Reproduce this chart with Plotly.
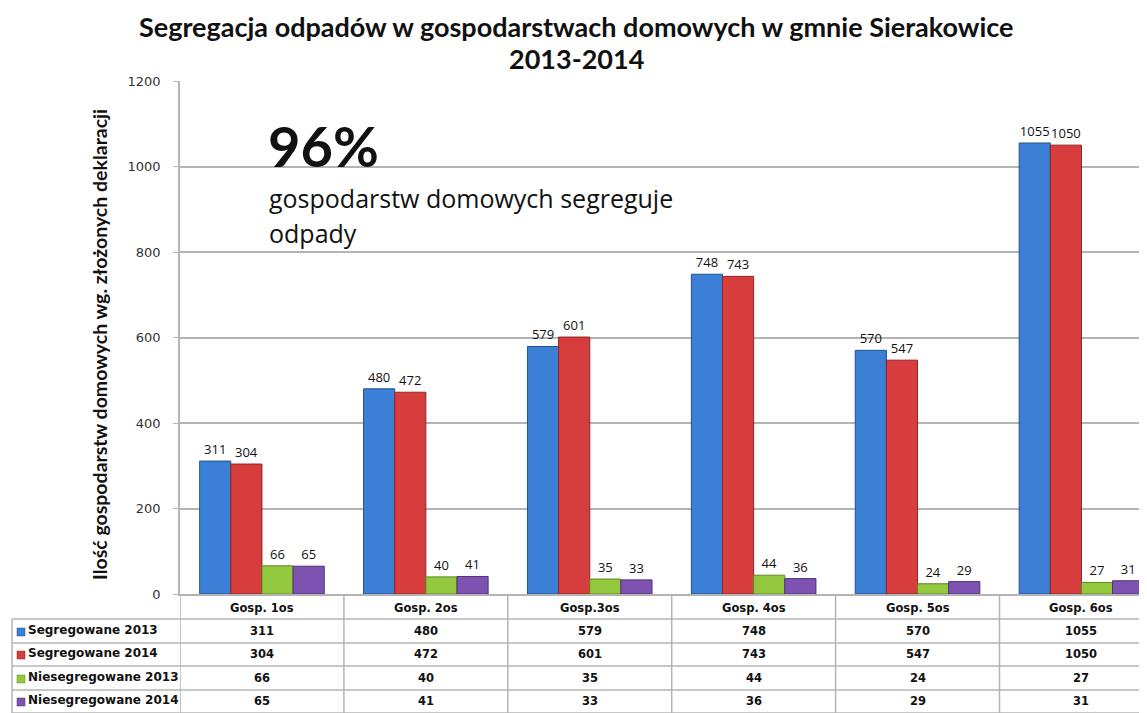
import plotly.graph_objects as go

categories = ["Gosp. 1os", "Gosp. 2os", "Gosp.3os", "Gosp. 4os", "Gosp. 5os", "Gosp. 6os"]
seg2013 = [311, 480, 579, 748, 570, 1055]
seg2014 = [304, 472, 601, 743, 547, 1050]
nieseg2013 = [66, 40, 35, 44, 24, 27]
nieseg2014 = [65, 41, 33, 36, 29, 31]
series_names = ["Segregowane 2013", "Segregowane 2014", "Niesegregowane 2013", "Niesegregowane 2014"]
series_values = [seg2013, seg2014, nieseg2013, nieseg2014]
colors = ["#3c7fd6", "#d73d3d", "#93c83f", "#7e52b0"]
outlines = ["#24528f", "#8e2424", "#5f8a22", "#4f3078"]
y_ticks = [0, 200, 400, 600, 800, 1000, 1200]

# the page body adds an 8px offset; layout is in target-picture pixels minus 8
OFF = 8
W, H = 1147 - OFF, 713 - OFF
L, R, T, B = 180 - OFF, 0, 81 - OFF, 713 - 594
pw, ph = W - L - R, H - T - B


def px(x):
    return (x - OFF - L) / pw


def py(y):
    return (H - B - (y - OFF)) / ph


fig = go.Figure()
for name, vals, c, oc in zip(series_names, series_values, colors, outlines):
    fig.add_trace(go.Bar(
        x=categories, y=vals, name=name,
        marker=dict(color=c, line=dict(color=oc, width=1)),
        text=[str(v) for v in vals], textposition="outside",
        textfont=dict(family="Open Sans", size=13, color="#111"),
        constraintext="none", cliponaxis=False,
    ))

shapes = []
annotations = []
grid = "#b4b4b4"
row_lines = [619, 643, 666, 690, 713]
for yl in row_lines:
    shapes.append(dict(type="line", xref="paper", yref="paper",
                       x0=px(12), x1=1.0, y0=py(yl), y1=py(yl),
                       line=dict(color=grid, width=1.5)))
shapes.append(dict(type="line", xref="paper", yref="paper",
                   x0=px(12), x1=px(12), y0=py(619), y1=py(713),
                   line=dict(color=grid, width=1.5)))
for i in range(len(categories)):
    shapes.append(dict(type="line", xref="x", yref="paper",
                       x0=i - 0.5, x1=i - 0.5, y0=py(594), y1=py(713),
                       line=dict(color=grid, width=1.5)))

row_centers = [631, 654, 678, 701]
tfont = dict(family="DejaVu Sans", size=11.5, color="#111", weight="bold")
for name, vals, c, oc, yc in zip(series_names, series_values, colors, outlines, row_centers):
    shapes.append(dict(type="rect", xref="paper", yref="paper",
                       x0=px(17), x1=px(25), y0=py(yc + 5), y1=py(yc - 3),
                       fillcolor=c, line=dict(color=oc, width=0.5)))
    annotations.append(dict(xref="paper", yref="paper", x=px(26), y=py(yc - 1),
                            text=name, showarrow=False, xanchor="left", yanchor="middle",
                            font=dict(family="DejaVu Sans", size=12, color="#111", weight="bold")))
    for cat, v in zip(categories, vals):
        annotations.append(dict(xref="x", yref="paper", x=cat, y=py(yc),
                                text=str(v), showarrow=False, xanchor="center", yanchor="middle",
                                font=tfont))

for cat in categories:
    annotations.append(dict(xref="x", yref="paper", x=cat, y=py(608),
                            text=cat, showarrow=False, xanchor="center", yanchor="middle",
                            font=tfont))

# title
tt = dict(family="Lato", size=27, color="#111", weight="bold")
annotations.append(dict(xref="paper", yref="paper", x=px(576), y=py(26),
                        text="Segregacja odpadów w gospodarstwach domowych w gmnie Sierakowice",
                        showarrow=False, xanchor="center", yanchor="middle", font=tt))
annotations.append(dict(xref="paper", yref="paper", x=px(576), y=py(59),
                        text="2013-2014",
                        showarrow=False, xanchor="center", yanchor="middle", font=tt))
# y-axis title
annotations.append(dict(xref="paper", yref="paper", x=px(99), y=py(345),
                        text="Ilość gospodarstw domowych wg. złożonych deklaracji",
                        textangle=-90, showarrow=False, xanchor="center", yanchor="middle",
                        font=dict(family="Lato", size=19.5, color="#111", weight="bold")))
# big note
annotations.append(dict(xref="paper", yref="paper", x=px(266), y=py(145),
                        text="96%", showarrow=False, xanchor="left", yanchor="middle",
                        font=dict(family="Lato", size=56, color="#111", weight="bold")))
nfont = dict(family="Open Sans", size=25, color="#111")
annotations.append(dict(xref="paper", yref="paper", x=px(267), y=py(198),
                        text="gospodarstw domowych segreguje", showarrow=False,
                        xanchor="left", yanchor="middle", font=nfont))
annotations.append(dict(xref="paper", yref="paper", x=px(267), y=py(233),
                        text="odpady", showarrow=False,
                        xanchor="left", yanchor="middle", font=nfont))

fig.update_layout(
    width=W, height=H,
    margin=dict(l=L, r=R, t=T, b=B),
    paper_bgcolor="white", plot_bgcolor="white",
    barmode="group", bargap=0.24, bargroupgap=0,
    showlegend=False,
    xaxis=dict(range=[-0.5, 5.40], showticklabels=False, showgrid=False,
               showline=True, linecolor=grid, linewidth=1.5, ticks=""),
    yaxis=dict(range=[0, 1200], tickvals=y_ticks, showgrid=True, gridcolor=grid, gridwidth=1.5,
               showline=True, linecolor=grid, linewidth=1.5, ticks="outside", ticklen=5,
               tickcolor=grid, zeroline=False, ticklabelstandoff=10,
               tickfont=dict(family="DejaVu Sans", size=13, color="#333")),
    shapes=shapes, annotations=annotations,
)

fig.write_html("out.html")
